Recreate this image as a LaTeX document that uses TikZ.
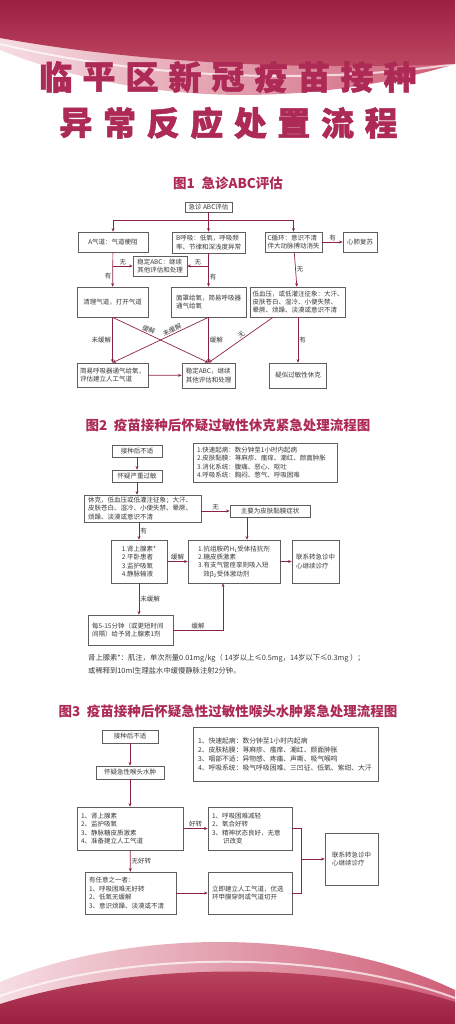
\documentclass[tikz,border=0pt]{standalone}
\usepackage{fontspec}
\setmainfont{Noto Sans CJK SC}
\usepackage{tikz}
\usetikzlibrary{
	arrows.meta,
	positioning,
	calc
}
\usepackage{xcolor}
\definecolor{wine}{HTML}{8B2346}
\definecolor{rose}{HTML}{AC2A55}
\definecolor{boxline}{HTML}{5E5E5E}
\definecolor{ink}{HTML}{3A3A3A}
\definecolor{bannerdark}{HTML}{9A1F41}
\definecolor{bannerlight}{HTML}{C04A64}
\definecolor{pinkpale}{HTML}{F6DDE2}
\definecolor{pinkdeep}{HTML}{CF5F78}
\newcommand{\boxfont}{\fontsize{6.5}{8.4}\selectfont}
\newcommand{\symfont}{\fontsize{6.8}{9}\selectfont}

\begin{document}
\begin{tikzpicture}[
		x=1pt, y=-1pt,
		>={Stealth[length=3.6pt,width=3pt]},
		box/.style={
			draw=boxline,
			line width=0.6pt,
			fill=white,
			text=ink,
			font=\boxfont,
			inner sep=1.5pt,
			align=center
		},
		lbox/.style={
			box,
			inner xsep=4pt,
			text width=#1,
			align=left
		},
		sz/.style 2 args={
			minimum width=#1pt,
			minimum height=#2pt
		},
		arr/.style={->, draw=wine, line width=0.7pt},
		link/.style={draw=wine, line width=0.7pt},
		lbl/.style={text=ink, font=\boxfont, inner sep=1pt},
		note/.style={text=ink, font=\fontsize{7.3}{9}\selectfont, inner sep=0pt},
		figtitle/.style={text=rose, font=\fontsize{13.5}{15}\selectfont\bfseries},
		headchar/.style={text=rose, font=\fontsize{33}{33}\selectfont\bfseries\addfontfeature{FakeBold=1.5}, inner sep=0pt}
		]
		\useasboundingbox (0,0) rectangle (455,1024);
		
		% Top banner
		\shade[left color=pinkpale, right color=pinkdeep] (0,0) -- (455,0) -- (455,64) .. controls (320,105) and (150,110) .. (0,50) -- cycle;
		\draw[white, line width=2pt, opacity=0.7] (0,44) .. controls (150,80) and (320,84) .. (455,64);
		\shade[top color=bannerdark, bottom color=bannerlight] (0,0) -- (455,0) -- (455,64) .. controls (320,70) and (150,65) .. (0,38) -- cycle;
		
		% Bottom banner
		\shade[left color=pinkpale, right color=pinkdeep] (0,982) .. controls (140,925) and (330,930) .. (455,990) -- (455,1024) -- (0,1024) -- cycle;
		\draw[white, line width=2pt, opacity=0.7] (0,996) .. controls (140,948) and (330,952) .. (455,998);
		\shade[top color=bannerlight, bottom color=bannerdark] (0,1004) .. controls (140,960) and (330,962) .. (455,1002) -- (455,1024) -- (0,1024) -- cycle;
		
		% Heading
		\foreach \c [count=\i] in {临,平,区,新,冠,疫,苗,接,种}
		\node[headchar] (head1-\i) at ({228+(\i-5)*43},77) {\c};
		\foreach \c [count=\i] in {异,常,反,应,处,置,流,程}
		\node[headchar] (head2-\i) at ({228.5+(\i-4.5)*43.6},123) {\c};
		
		% Figure 1
		\node[figtitle] (fig1) at (228,183) {图1\hspace{0.5em}急诊ABC评估};
		\node[box, sz={47}{10}] (abc) at (208.5,207) {急诊 ABC评估};
		\node[box, sz={70}{20}] (airA) at (113,242) {A气道：气道梗阻};
		\node[box, sz={73}{21}, align=left] (breathB) at (208.5,242.5) {B呼吸：低氧，呼吸频\\率、节律和深浅度异常};
		\node[box, sz={57}{20}, align=left] (circC) at (293.5,242) {C循环：意识不清\\伴大动脉搏动消失};
		\node[box, sz={34}{20}] (cpr) at (360,242) {心肺复苏};
		\node[box, sz={54}{20}, align=left] (stab1) at (160,266) {稳定ABC：继续\\其他评估和处理};
		\node[box, sz={71}{30}] (clear) at (112.5,302) {清理气道，打开气道};
		\node[box, sz={75}{30}, align=left] (mask) at (208.5,302) {面罩给氧，简易呼吸器\\通气给氧};
		\node[box, sz={95}{30}, align=left] (hypo) at (298,302) {低血压，或低灌注征象：大汗、\\皮肤苍白、湿冷、小便失禁、\\晕厥、烦躁、淡漠或意识不清};
		\node[box, sz={71}{24}, align=left] (bvm) at (112.5,375) {简易呼吸器通气给氧，\\评估建立人工气道};
		\node[box, sz={53}{25}, align=left] (stab2) at (208.5,375.5) {稳定ABC，继续\\其他评估和处理};
		\node[box, sz={57}{25}] (shock) at (298,375.5) {疑似过敏性休克};
		
		\draw[arr] (abc.south) -- ++(0,8) -| (airA.north);
		\draw[arr] (abc.south) -- ++(0,8) -| (circC.north);
		\draw[arr] (abc) -- (breathB);
		\draw[arr] (airA) -- node[lbl, pos=0.7, left] (l1) {有} (clear);
		\draw[arr] (airA.south |- stab1.west) -- node[lbl, above] (l2) {无} (stab1.west);
		\draw[arr] (breathB) -- node[lbl, pos=0.7, right] (l3) {有} (mask);
		\draw[arr] (breathB.south |- stab1.east) -- node[lbl, above] (l4) {无} (stab1.east);
		\draw[arr] (circC) -- node[lbl, right] (l5) {无} (hypo);
		\draw[arr] (circC) -- node[lbl, above] (l6) {有} (cpr);
		\draw[arr] (clear) -- node[lbl, left] (l7) {未缓解} (bvm);
		\draw[arr] (mask) -- node[lbl, right] (l8) {缓解} (stab2);
		\draw[arr] (hypo) -- node[lbl, right] (l9) {有} (shock);
		\draw[arr] (clear.south) -- node[lbl, sloped, above, pos=0.36] (l10) {缓解} (stab2.north);
		\draw[arr] (mask.south) -- node[lbl, sloped, above, pos=0.36] (l11) {未缓解} (bvm.north);
		\draw[arr] ([xshift=-25pt]hypo.south) -- node[lbl, sloped, above, pos=0.45] (l12) {无} (stab2.north);
		\draw[arr] (bvm) -- (stab2);
		
		% Figure 2
		\node[figtitle] (fig2) at (228,425) {图2\hspace{0.5em}疫苗接种后怀疑过敏性休克紧急处理流程图};
		\node[box, sz={50}{12}] (inj2) at (137,451) {接种后不适};
		\node[box, sz={50}{12}] (sus2) at (137,476) {怀疑严重过敏};
		\node[lbox=136pt, minimum height=39pt] (sym2) at (265,462.5) {1.快速起病：数分钟至1小时内起病\\2.皮肤黏膜：荨麻疹、瘙痒、潮红、颜面肿胀\\3.消化系统：腹痛、恶心、呕吐\\4.呼吸系统：胸闷、憋气、呼吸困难};
		\node[lbox=109pt, minimum height=27pt] (shock2) at (142.5,508.5) {休克，低血压或低灌注征象；大汗、\\皮肤苍白、湿冷、小便失禁、晕厥、\\烦躁、淡漠或意识不清};
		\node[box, sz={80}{12}] (skin2) at (270,511) {主要为皮肤黏膜症状};
		\node[box, sz={56}{43}, align=left] (epi2) at (139,561.5) {1.肾上腺素*\\2.平卧患者\\3.监护吸氧\\4.静脉输液};
		\node[box, sz={92}{43}, align=left] (anti2) at (234,561.5) {1.抗组胺药H\textsubscript{1}受体拮抗剂\\2.糖皮质激素\\3.有支气管痉挛则吸入短\\\hspace*{0.8em}效β\textsubscript{2}受体激动剂};
		\node[box, sz={47}{43}, align=left] (er2) at (315.5,561.5) {联系转急诊中\\心继续诊疗};
		\node[lbox=77pt, minimum height=30pt] (rep2) at (130.5,630) {每5-15分钟（或更短时间\\间隔）给予肾上腺素1剂};
		\node[note, anchor=west] (note1) at (88,658) {肾上腺素*：肌注，单次剂量0.01mg/kg（ 14岁以上≤0.5mg，14岁以下≤0.3mg ）；};
		\node[note, anchor=west] (note2) at (88,671) {或稀释到10ml生理盐水中缓慢静脉注射2分钟。};
		
		\draw[arr] (inj2) -- (sus2);
		\draw[arr] (sus2) -- (sus2 |- shock2.north);
		\draw[arr] (shock2.east |- skin2) -- node[lbl, above] (l13) {无} (skin2.west);
		\draw[arr] (epi2.north |- shock2.south) -- node[lbl, right] (l14) {有} (epi2.north);
		\draw[arr] ([xshift=-23pt]skin2.south) -- ([xshift=-23pt]skin2.south |- anti2.north);
		\draw[arr] (epi2) -- node[lbl, above] (l15) {缓解} (anti2);
		\draw[arr] (anti2) -- (er2);
		\draw[arr] (epi2.south) -- node[lbl, right] (l16) {未缓解} (epi2.south |- rep2.north);
		\draw[arr] (rep2.east) -| node[lbl, pos=0.25, above] (l17) {缓解} ([xshift=-11pt]anti2.south);
		
		% Figure 3
		\node[figtitle] (fig3) at (228,711) {图3\hspace{0.5em}疫苗接种后怀疑急性过敏性喉头水肿紧急处理流程图};
		\node[box, sz={56}{13}] (inj3) at (130,736.5) {接种后不适};
		\node[box, sz={68}{13}] (sus3) at (130,772.5) {怀疑急性喉头水肿};
		\node[lbox=175pt, inner xsep=5pt, minimum height=54pt, font=\symfont] (sym3) at (285.5,754) {1、快速起病：数分钟至1小时内起病\\2、皮肤粘膜：荨麻疹、瘙痒、潮红、颜面肿胀\\3、咽部不适：异物感、疼痛、声嘶、吸气喉鸣\\4、呼吸系统：吸气呼吸困难、三凹征、低氧、紫绀、大汗};
		\node[lbox=98pt, minimum height=43pt] (epi3) at (130,828.5) {1、肾上腺素\\2、监护吸氧\\3、静脉糖皮质激素\\4、准备建立人工气道};
		\node[lbox=76pt, minimum height=43pt] (relief3) at (250,828.5) {1、呼吸困难减轻\\2、氧合好转\\3、精神状态良好，无意\\\hspace*{1.7em}识改变};
		\node[lbox=83pt, minimum height=42pt] (any3) at (130.5,893) {有任意之一者：\\1、呼吸困难无好转\\2、低氧无缓解\\3、意识烦躁、淡漠或不清};
		\node[lbox=76pt, minimum height=42pt] (now3) at (250,893) {立即建立人工气道，优选\\环甲膜穿刺或气道切开};
		\node[box, sz={53}{52}, align=left] (er3) at (351.5,859) {联系转急诊中\\心继续诊疗};
		
		\draw[arr] (inj3) -- (sus3);
		\draw[arr] (sus3) -- (epi3);
		\draw[arr] (epi3) -- node[lbl, above] (l18) {好转} (relief3);
		\draw[arr] (epi3) -- node[lbl, right] (l19) {无好转} (any3);
		\draw[arr] (any3) -- (now3);
		\draw[link] (relief3.east) -- ++(9,0) coordinate (brk) -- (brk |- now3.east) -- (now3.east);
		\draw[arr] (brk |- er3.west) -- (er3.west);
		
	\end{tikzpicture}
\end{document}
